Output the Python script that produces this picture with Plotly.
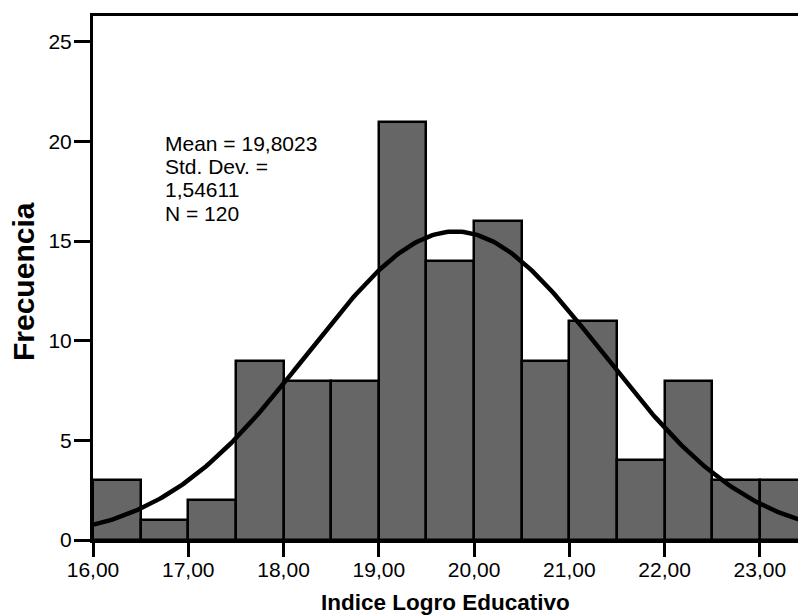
import numpy as np
import plotly.graph_objects as go

bin_edges_left = [16.0, 16.5, 17.0, 17.5, 18.0, 18.5, 19.0, 19.5, 20.0, 20.5, 21.0, 21.5, 22.0, 22.5, 23.0]
counts = [3, 1, 2, 9, 8, 8, 21, 14, 16, 9, 11, 4, 8, 3, 3]
bin_width = 0.5
mean_val = 19.8023
std_val = 1.54611
n_val = 120
x_tickvals = [16, 17, 18, 19, 20, 21, 22, 23]
x_ticktext = ["16,00", "17,00", "18,00", "19,00", "20,00", "21,00", "22,00", "23,00"]
y_tickvals = [0, 5, 10, 15, 20, 25]
stats_lines = ["Mean = 19,8023", "Std. Dev. =", "1,54611", "N = 120"]

FONT = "Liberation Sans, Arial, sans-serif"
L, R, T, B = 93, 0, 16, 76
W, H = 798, 616
PW, PH = W - L - R, H - T - B


def px_to_paper(px, py):
    return (px - L) / PW, (H - B - py) / PH


centers = [e + bin_width / 2 for e in bin_edges_left]
xs = np.linspace(15.9, 23.6, 300)
ys = n_val * bin_width * np.exp(-0.5 * ((xs - mean_val) / std_val) ** 2) / (std_val * np.sqrt(2 * np.pi))

fig = go.Figure()
fig.add_trace(go.Bar(x=centers, y=counts, width=bin_width,
                     marker=dict(color="#666666", line=dict(color="black", width=2.5)),
                     showlegend=False, hoverinfo="skip"))
fig.add_trace(go.Scatter(x=xs, y=ys, mode="lines",
                         line=dict(color="black", width=4.5), showlegend=False, hoverinfo="skip"))

# statistics box text
for i, line in enumerate(stats_lines):
    px, py = px_to_paper(163, 143 + i * 23.4)
    fig.add_annotation(x=px, y=py, xref="paper", yref="paper", xanchor="left", yanchor="middle",
                       text=line, showarrow=False, align="left",
                       font=dict(family=FONT, size=21, color="black"))

# axis titles
px, py = px_to_paper(446, 602)
fig.add_annotation(x=px, y=py, xref="paper", yref="paper", xanchor="center", yanchor="middle",
                   text="<b>Indice Logro Educativo</b>", showarrow=False,
                   font=dict(family=FONT, size=22.5, color="black"))
px, py = px_to_paper(23, 282)
fig.add_annotation(x=px, y=py, xref="paper", yref="paper", xanchor="center", yanchor="middle",
                   text="<b>Frecuencia</b>", showarrow=False, textangle=-90,
                   font=dict(family=FONT, size=30, color="black"))

fig.update_layout(
    width=W, height=H,
    margin=dict(l=L, r=R, t=T, b=B),
    plot_bgcolor="white", paper_bgcolor="white",
    bargap=0,
    font=dict(family=FONT, color="black"),
    xaxis=dict(range=[16, 23.40], tickvals=x_tickvals, ticktext=x_ticktext,
               showgrid=False, zeroline=False, showline=True, mirror=True,
               linecolor="black", linewidth=3, ticks="outside", ticklen=14, tickwidth=2.5,
               tickcolor="black", tickfont=dict(size=21), ticklabelstandoff=-5),
    yaxis=dict(range=[0, 26.3], tickvals=y_tickvals,
               showgrid=False, zeroline=False, showline=True,
               linecolor="black", linewidth=3, ticks="outside", ticklen=16, tickwidth=2.5,
               tickcolor="black", tickfont=dict(size=21), ticklabelstandoff=-2),
)

fig.write_html("out.html")
